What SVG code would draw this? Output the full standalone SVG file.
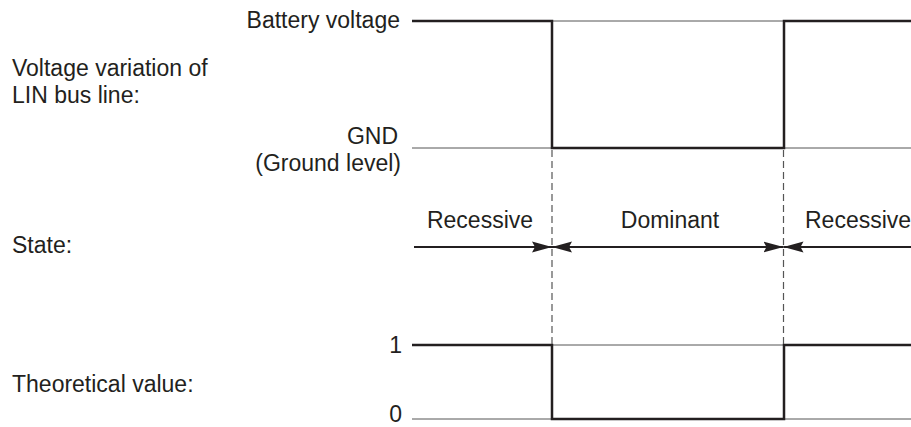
<svg xmlns="http://www.w3.org/2000/svg" width="911" height="427" viewBox="0 0 911 427">
<style>
text{font-family:"Liberation Sans",Arial,sans-serif;font-size:23px;fill:#231f20}
.sig{fill:none;stroke:#231f20;stroke-width:2.5}
.ref{fill:none;stroke:#555;stroke-width:1}
.dash{fill:none;stroke:#555;stroke-width:1.2;stroke-dasharray:7 4}
.arr{fill:none;stroke:#231f20;stroke-width:2.2}
</style>
<defs>
<marker id="ah" markerUnits="userSpaceOnUse" markerWidth="22" markerHeight="12" refX="20" refY="6" orient="auto-start-reverse" viewBox="0 0 22 12">
<path d="M0,0.5 L20,6 L0,11.5 L3,6 z" fill="#231f20"/>
</marker>
</defs>
<g id="labels">
<text x="12" y="76">Voltage variation of</text>
<text x="12" y="103">LIN bus line:</text>
<text x="12" y="253">State:</text>
<text x="12" y="392">Theoretical value:</text>
</g>
<g id="lin-voltage">
<text x="400" y="28" text-anchor="end">Battery voltage</text>
<text x="398" y="144" text-anchor="end">GND</text>
<text x="401" y="171" text-anchor="end">(Ground level)</text>
<path class="ref" d="M552 21 H784 M412 148 H552 M784 148 H911"/>
<path class="sig" d="M412 21 H552 V148 H784 V21 H911"/>
</g>
<g id="state">
<text x="480" y="228" text-anchor="middle">Recessive</text>
<text x="670" y="228" text-anchor="middle">Dominant</text>
<text x="805" y="228">Recessive</text>
</g>
<g id="theoretical">
<text x="402" y="353" text-anchor="end">1</text>
<text x="402" y="422" text-anchor="end">0</text>
<path class="ref" d="M552 345 H784 M412 419 H552 M784 419 H911"/>
<path class="sig" d="M412 345 H552 V419 H784 V345 H911"/>
</g>
<g id="connectors">
<line class="dash" x1="552" y1="150" x2="552" y2="345"/>
<line class="dash" x1="783.5" y1="150" x2="783.5" y2="345"/>
<line class="arr" x1="414" y1="247" x2="552" y2="247" marker-end="url(#ah)"/>
<line class="arr" x1="552" y1="247" x2="783.5" y2="247" marker-start="url(#ah)" marker-end="url(#ah)"/>
<line class="arr" x1="911" y1="247" x2="783.5" y2="247" marker-end="url(#ah)"/>
</g>
</svg>
